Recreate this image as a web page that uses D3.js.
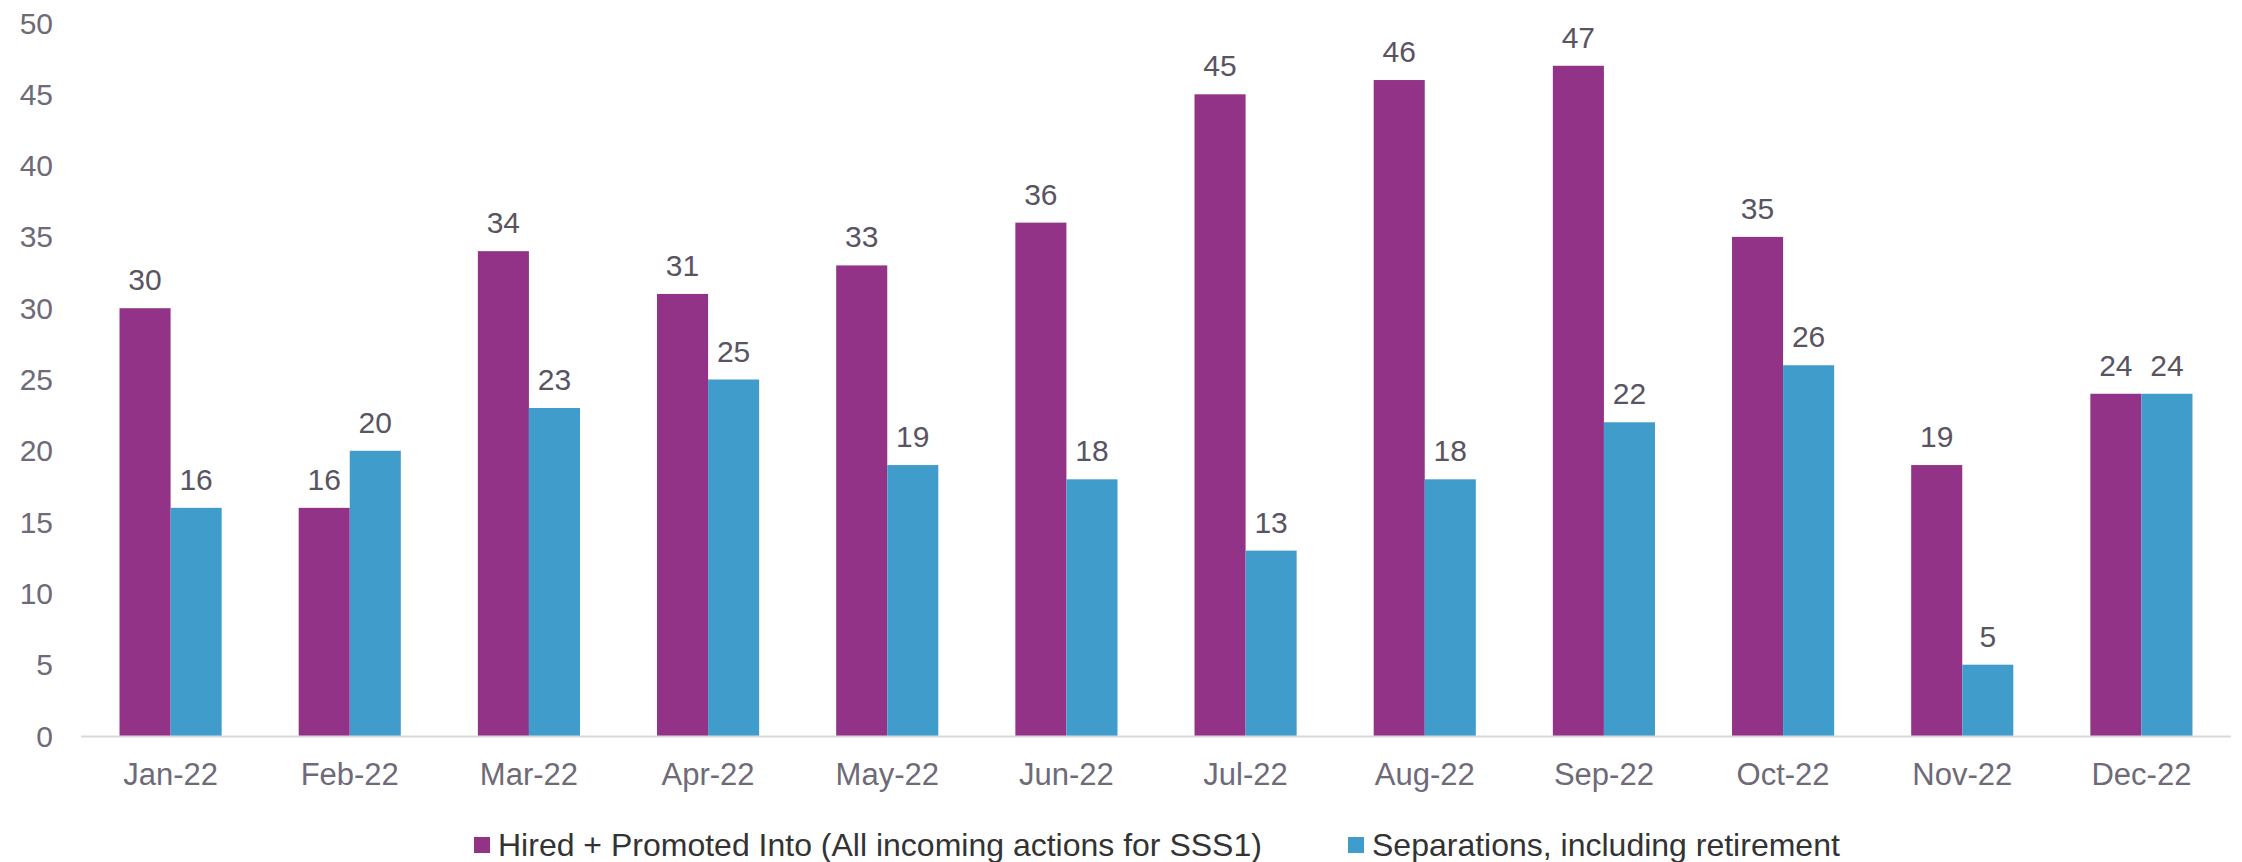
<!DOCTYPE html>
<html><head><meta charset="utf-8">
<script src="https://cdn.jsdelivr.net/npm/d3@7"></script>
<style>body{margin:0;background:#fff}svg{display:block}text{font-family:"Liberation Sans",Arial,sans-serif}</style>
</head><body>
<svg id="c" width="2242" height="862"></svg>
<script>
const categories = ["Jan-22","Feb-22","Mar-22","Apr-22","May-22","Jun-22","Jul-22","Aug-22","Sep-22","Oct-22","Nov-22","Dec-22"];
const hired = [30,16,34,31,33,36,45,46,47,35,19,24];
const separations = [16,20,23,25,19,18,13,18,22,26,5,24];
const seriesNames = ["Hired + Promoted Into (All incoming actions for SSS1)","Separations, including retirement"];
const yTicks = [0,5,10,15,20,25,30,35,40,45,50];
const colors = ["#923388","#409CCA"];

const svg = d3.select("#c");
const mLeft = 81, mRight = 2231, mTop = 23, mBottom = 736;
const x = d3.scaleBand().domain(categories).range([mLeft, mRight]).paddingInner(0.43).paddingOuter(0.215);
const x1 = d3.scaleBand().domain([0,1]).range([0, x.bandwidth()]);
const y = d3.scaleLinear().domain([0,50]).range([mBottom, mTop]);

// y tick labels
svg.append("g").selectAll("text").data(yTicks).join("text")
  .attr("x", 53).attr("y", d => y(d)).attr("dy", "0.35em")
  .attr("text-anchor", "end").attr("font-size", 30).attr("fill", "#6E6A78")
  .text(d => d);

const series = [hired, separations];
series.forEach((vals, si) => {
  const g = svg.append("g");
  g.selectAll("rect").data(vals).join("rect")
    .attr("x", (d,i) => x(categories[i]) + x1(si))
    .attr("y", d => y(d))
    .attr("width", x1.bandwidth())
    .attr("height", d => mBottom - y(d))
    .attr("fill", colors[si]);
  g.selectAll("text").data(vals).join("text")
    .attr("x", (d,i) => x(categories[i]) + x1(si) + x1.bandwidth()/2)
    .attr("y", d => y(d) - 18)
    .attr("text-anchor", "middle").attr("font-size", 30).attr("fill", "#595462")
    .text(d => d);
});

// x axis line
svg.append("line").attr("x1", mLeft).attr("x2", mRight).attr("y1", mBottom+0.5).attr("y2", mBottom+0.5)
  .attr("stroke", "#D9D9D9").attr("stroke-width", 2);

svg.append("g").selectAll("text").data(categories).join("text")
  .attr("x", d => x(d) + x.bandwidth()/2).attr("y", 785)
  .attr("text-anchor", "middle").attr("font-size", 31).attr("fill", "#6E6A78")
  .text(d => d);

// legend
const legendX = [474, 1348];
seriesNames.forEach((name, i) => {
  svg.append("rect").attr("x", legendX[i]).attr("y", 837).attr("width", 16).attr("height", 16).attr("fill", colors[i]);
  svg.append("text").attr("x", legendX[i] + 24).attr("y", 856).attr("font-size", 32).attr("fill", "#333333").text(name);
});
</script>
</body></html>
